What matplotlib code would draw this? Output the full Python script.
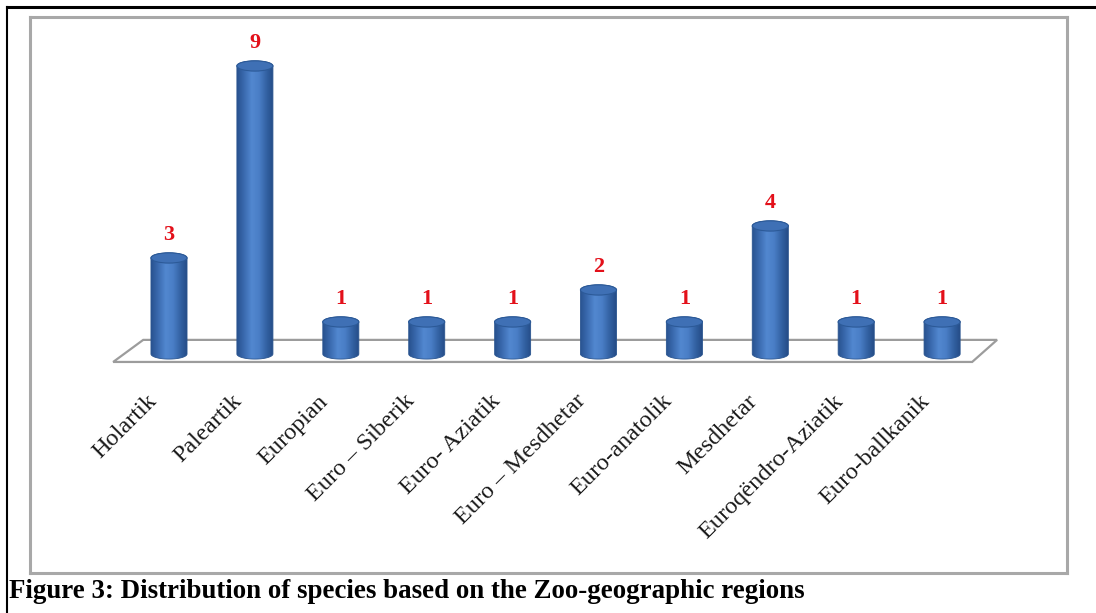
import numpy as np
import matplotlib
matplotlib.use("Agg")
from matplotlib import pyplot as plt
from matplotlib.path import Path
from matplotlib.patches import PathPatch, Ellipse, Polygon
from matplotlib.colors import LinearSegmentedColormap
from matplotlib.lines import Line2D

# data
regions = ["Holartik", "Paleartik", "Europian", "Euro \u2013 Siberik", "Euro- Aziatik",
           "Euro \u2013 Mesdhetar", "Euro-anatolik", "Mesdhetar", "Euroq\u00ebndro-Aziatik",
           "Euro-ballkanik"]
counts = [3, 9, 1, 1, 1, 2, 1, 4, 1, 1]
caption = "Figure 3: Distribution of species based on the Zoo-geographic regions"

W, H = 1096, 613
fig = plt.figure(figsize=(W / 100, H / 100), dpi=100)
fig.patch.set_facecolor("white")

# chart box (gray frame)
ax = fig.add_axes([30 / W, (H - 573) / H, 1037 / W, 556 / H])
ax.set_xticks([])
ax.set_yticks([])
for s in ax.spines.values():
    s.set_color("#a8a8a8")
    s.set_linewidth(2.2)

# floor
floor = Polygon([(-0.65, -0.25), (-0.30, 0.44), (9.64, 0.44), (9.35, -0.25)],
                closed=True, facecolor="white", edgecolor="#9c9c9c", lw=1.6, zorder=1)
ax.add_patch(floor)

cmap = LinearSegmentedColormap.from_list(
    "cyl", ["#28528f", "#3b6bb0", "#5288d0", "#4a7ec6", "#3362a3", "#244a84"])
grad = np.linspace(0, 1, 200).reshape(1, -1)

rx, ry = 0.21, 0.16
for i, v in enumerate(counts):
    t1 = np.linspace(np.pi, 2 * np.pi, 60)
    t2 = np.linspace(0, np.pi, 60)
    xs = np.concatenate([i + rx * np.cos(t1), i + rx * np.cos(t2)])
    ys = np.concatenate([ry * np.sin(t1), v + ry * np.sin(t2)])
    verts = np.column_stack([xs, ys])
    body = PathPatch(Path(np.vstack([verts, verts[:1]]), closed=True),
                     facecolor="none", edgecolor="#2a5590", lw=0.6, zorder=3)
    ax.add_patch(body)
    im = ax.imshow(grad, cmap=cmap, aspect="auto", zorder=2,
                   extent=(i - rx, i + rx, -ry, v + ry), interpolation="bicubic")
    im.set_clip_path(body)
    top = Ellipse((i, v), 2 * rx, 2 * ry, facecolor="#3f70b5",
                  edgecolor="#2c5a98", lw=0.8, zorder=4)
    ax.add_patch(top)
    ax.text(i, v + 0.72, str(v), color="#e3101a", fontsize=16, fontweight="bold",
            family="Liberation Serif", ha="center", va="center", zorder=5)
    ax.text(i - 0.27, -1.15, regions[i], rotation=45, rotation_mode="anchor",
            ha="right", va="top", fontsize=17.5, family="Liberation Serif",
            color="#1a1a1a", zorder=5)

ax.set_xlim(-1.618, 10.454)
ax.set_ylim(-6.845, 10.53)

# outer black border (top and left)
fig.add_artist(Line2D([7 / W, 1], [1 - 7 / H, 1 - 7 / H], color="black", lw=2.2))
fig.add_artist(Line2D([7 / W, 7 / W], [0, 1 - 7 / H], color="black", lw=1.5))

fig.text(9 / W, 1 - 591 / H, caption, fontsize=19.4, fontweight="bold",
         family="Liberation Serif", ha="left", va="center")

fig.savefig("out.png", dpi=100)
